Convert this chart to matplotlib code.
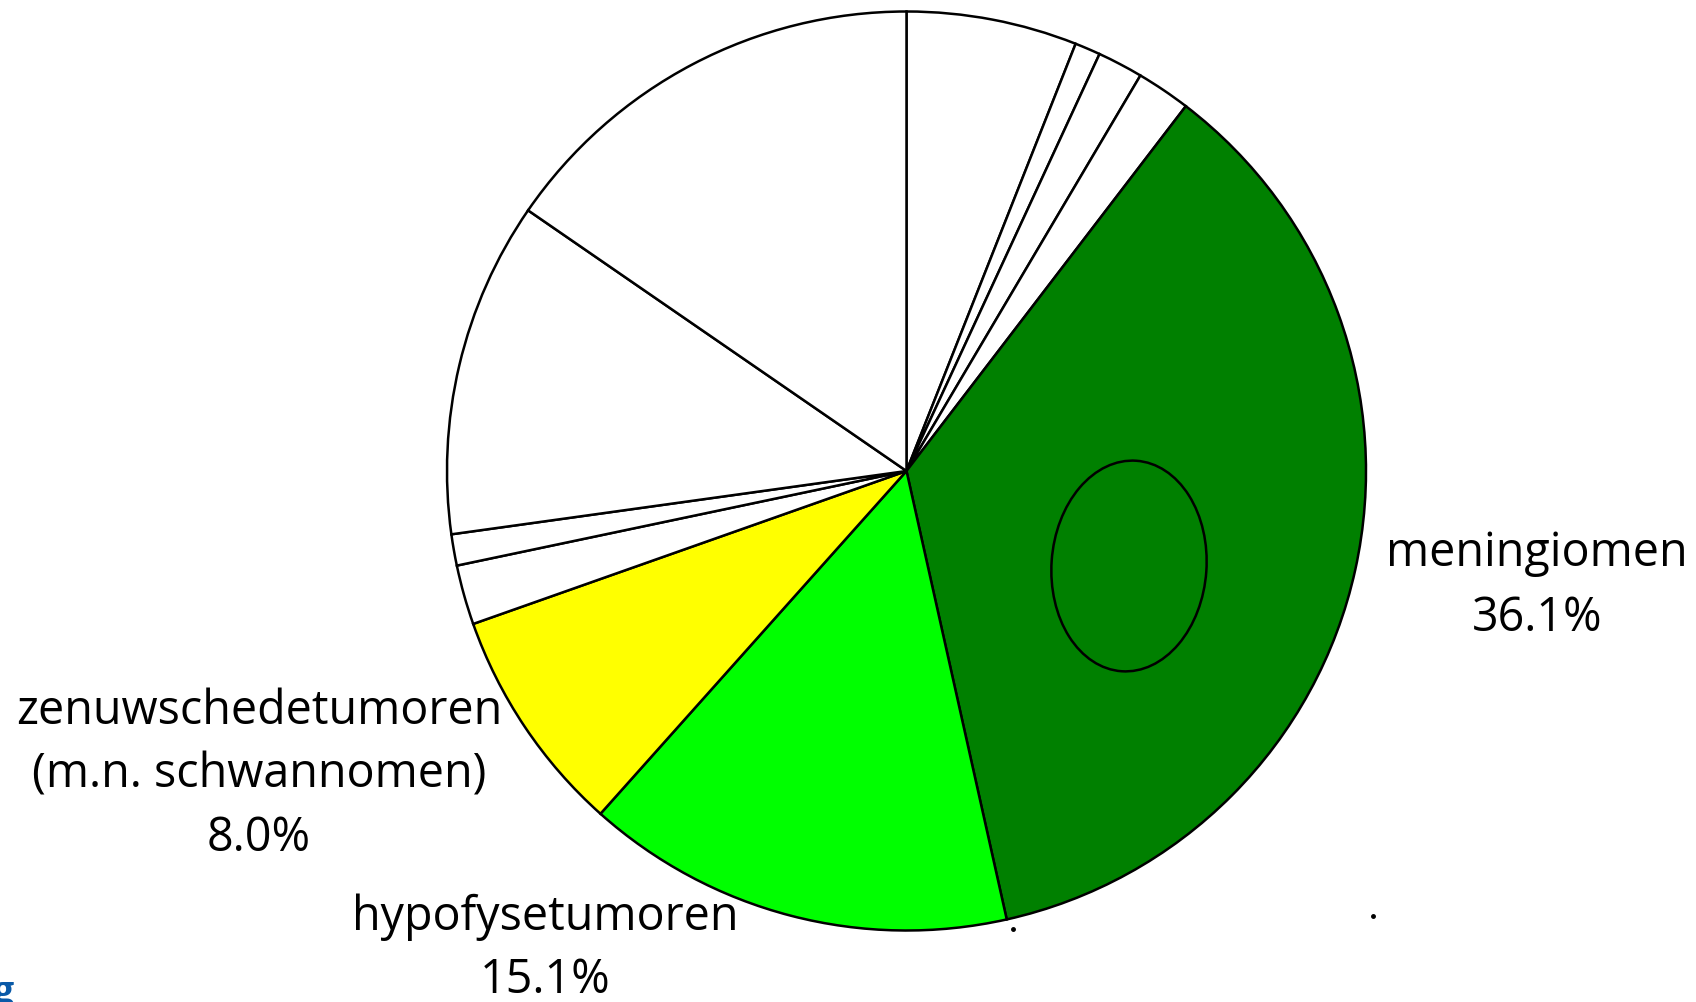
import matplotlib
matplotlib.use("Agg")
import matplotlib.pyplot as plt
from matplotlib.patches import Ellipse

# Data (percent), clockwise from 12 o'clock
categories = ["", "", "", "", "meningiomen", "hypofysetumoren",
              "zenuwschedetumoren\n(m.n. schwannomen)", "", "", "", ""]
values = [6.0, 0.9, 1.6, 1.9, 36.1, 15.1, 8.0, 2.1, 1.1, 11.8, 15.4]
colors = ["white", "white", "white", "white", "#008000", "#00FF00",
          "#FFFF00", "white", "white", "white", "white"]

W, H = 1696, 1002
fig = plt.figure(figsize=(W / 100, H / 100), dpi=100)
ax = fig.add_axes([0, 0, 1, 1])

def Y(yp):
    return H - yp

ax.pie(values, colors=colors, startangle=90, counterclock=False,
       center=(906.5, Y(471)), radius=459.5,
       wedgeprops=dict(edgecolor="black", linewidth=1.8))

ax.add_patch(Ellipse((1129, Y(566)), 155, 211, angle=-4, fill=False,
                     edgecolor="black", linewidth=1.8))

font = "Open Sans"
fs = 33.6
txt = dict(ha="center", va="center", fontsize=fs, family=font, color="black")

ax.text(1537, Y(553), categories[4], **txt)
ax.text(1537, Y(618), f"{values[4]:.1f}%", **txt)

zl = categories[6].split("\n")
ax.text(259, Y(711), zl[0], **txt)
ax.text(259, Y(775), zl[1], **txt)
ax.text(259, Y(838), f"{values[6]:.1f}%", **txt)

ax.text(545, Y(917), categories[5], **txt)
ax.text(545, Y(980), f"{values[5]:.1f}%", **txt)

# small stray marks
ax.plot([1013, 1373], [Y(929), Y(916)], "o", color="black", markersize=2.5)

# cut-off blue logo text at bottom-left
ax.text(-7, Y(1012), "g", ha="left", va="bottom", fontsize=27,
        fontweight="bold", family=font, color="#0a5aa8")

ax.set_xlim(0, W)
ax.set_ylim(0, H)
ax.set_aspect("equal")
ax.axis("off")
fig.savefig("out.png", dpi=100, facecolor="white")
